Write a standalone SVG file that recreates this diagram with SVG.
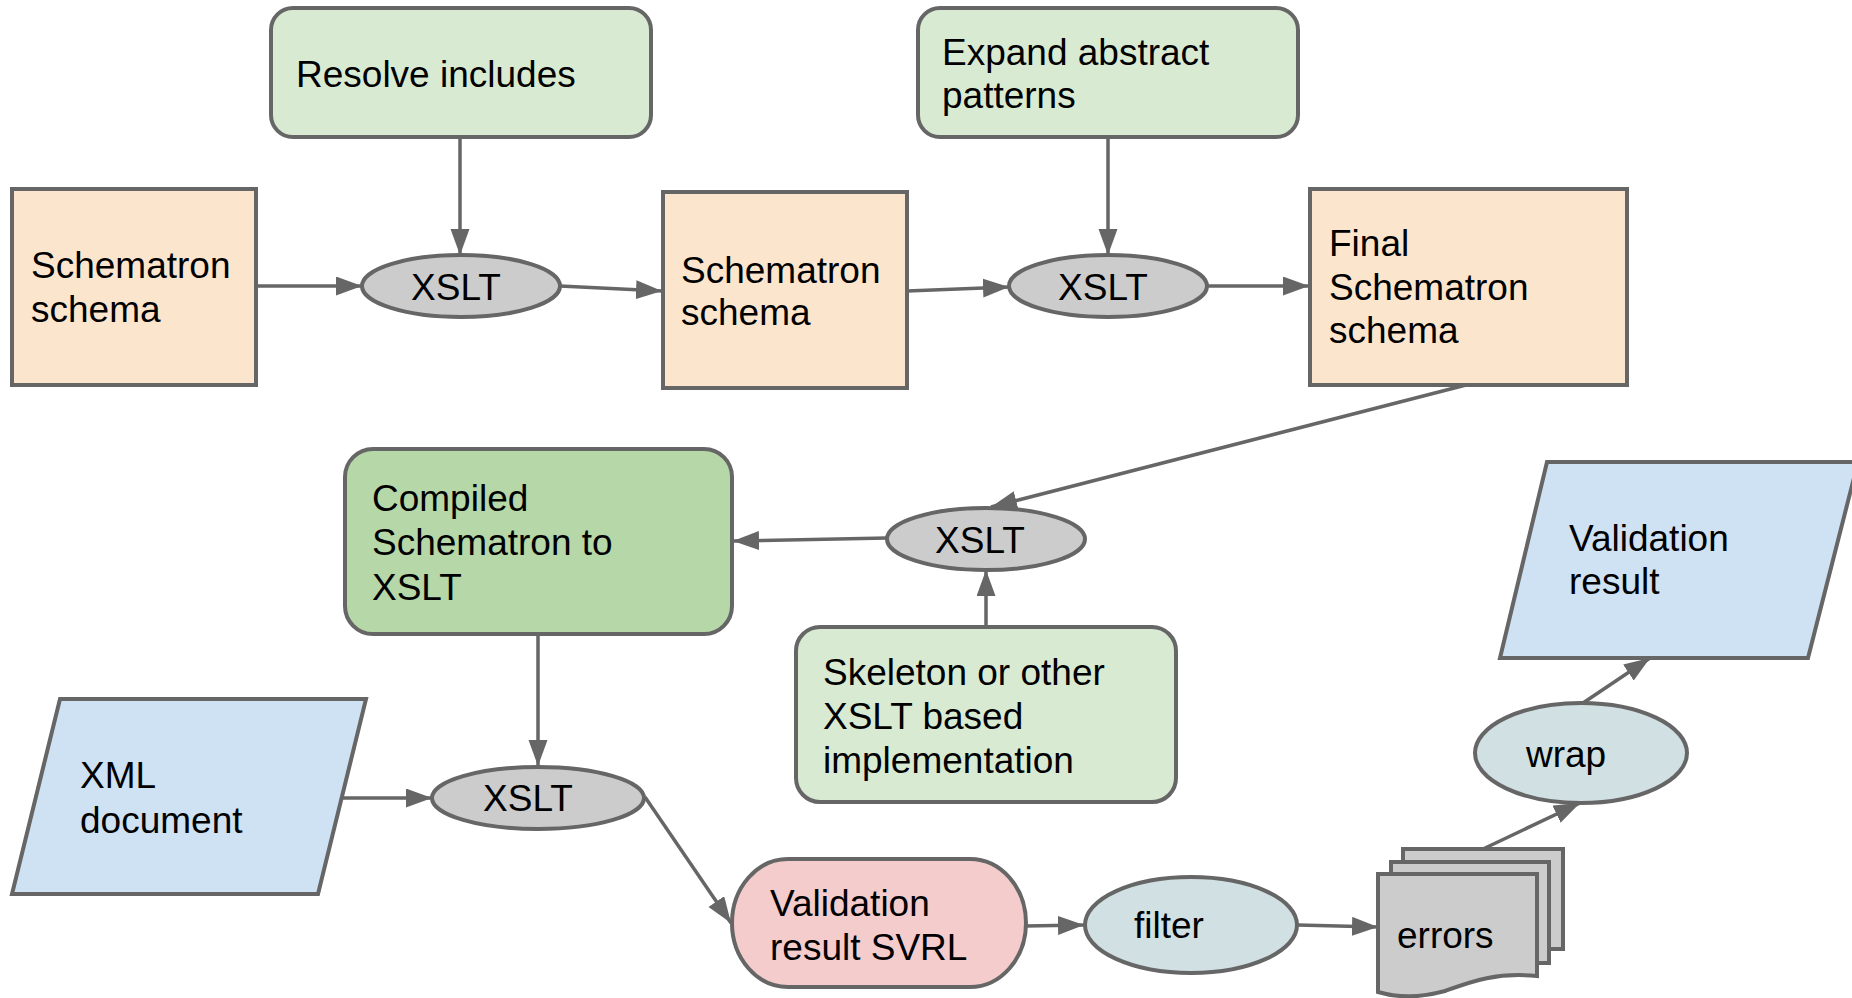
<svg xmlns="http://www.w3.org/2000/svg" width="1852" height="998" viewBox="0 0 1852 998">
<style>
  .n { stroke: #666666; stroke-width: 4; }
  .lg { fill: #d9ead3; }
  .dg { fill: #b6d7a8; }
  .or { fill: #fce5cd; }
  .gr { fill: #cccccc; }
  .bl { fill: #cfe2f3; }
  .pk { fill: #f4cccc; }
  .tl { fill: #d0e0e3; }
  text { font-family: "Liberation Sans", Arial, sans-serif; font-size: 37px; fill: #000000; }
  .c line { stroke: #666666; stroke-width: 3.5; fill: none; marker-end: url(#ah); }
</style>
<defs>
  <marker id="ah" markerUnits="userSpaceOnUse" markerWidth="28" markerHeight="20" refX="26" refY="9.5" orient="auto">
    <path d="M0,0 L26,9.5 L0,19 z" fill="#666666"/>
  </marker>
</defs>
<rect width="1852" height="998" fill="#ffffff"/>

<g class="c" id="connectors">
  <line x1="460" y1="137" x2="460" y2="255"/>
  <line x1="256" y1="286" x2="362" y2="286"/>
  <line x1="560" y1="286" x2="662" y2="291"/>
  <line x1="907" y1="291" x2="1009" y2="287"/>
  <line x1="1108" y1="137" x2="1108" y2="255"/>
  <line x1="1207" y1="286" x2="1309" y2="286"/>
  <line x1="1466" y1="385" x2="991" y2="507"/>
  <line x1="887" y1="538" x2="733" y2="541"/>
  <line x1="986" y1="627" x2="986" y2="570"/>
  <line x1="538" y1="634" x2="538" y2="766"/>
  <line x1="342" y1="798" x2="432" y2="798"/>
  <line x1="645" y1="797" x2="731" y2="923"/>
  <line x1="1025" y1="926" x2="1084" y2="925"/>
  <line x1="1298" y1="925" x2="1378" y2="927"/>
  <line x1="1483" y1="849" x2="1580" y2="803"/>
  <line x1="1583" y1="703" x2="1650" y2="658"/>
</g>

<g id="resolve">
  <rect class="n lg" x="271" y="8" width="380" height="129" rx="22"/>
  <text x="296" y="87">Resolve includes</text>
</g>
<g id="expand">
  <rect class="n lg" x="918" y="8" width="380" height="129" rx="22"/>
  <text x="942" y="65">Expand abstract</text>
  <text x="942" y="108">patterns</text>
</g>
<g id="schema1">
  <rect class="n or" x="12" y="189" width="244" height="196"/>
  <text x="31" y="278">Schematron</text>
  <text x="31" y="322">schema</text>
</g>
<g id="xslt1">
  <ellipse class="n gr" cx="461" cy="286" rx="99" ry="31"/>
  <text x="456" y="300" text-anchor="middle">XSLT</text>
</g>
<g id="schema2">
  <rect class="n or" x="663" y="192" width="244" height="196"/>
  <text x="681" y="283">Schematron</text>
  <text x="681" y="325">schema</text>
</g>
<g id="xslt2">
  <ellipse class="n gr" cx="1108" cy="286" rx="99" ry="31"/>
  <text x="1103" y="300" text-anchor="middle">XSLT</text>
</g>
<g id="final">
  <rect class="n or" x="1310" y="189" width="317" height="196"/>
  <text x="1329" y="256">Final</text>
  <text x="1329" y="300">Schematron</text>
  <text x="1329" y="343">schema</text>
</g>
<g id="xslt3">
  <ellipse class="n gr" cx="986" cy="539" rx="99" ry="31"/>
  <text x="980" y="553" text-anchor="middle">XSLT</text>
</g>
<g id="compiled">
  <rect class="n dg" x="345" y="449" width="387" height="185" rx="28"/>
  <text x="372" y="511">Compiled</text>
  <text x="372" y="555">Schematron to</text>
  <text x="372" y="600">XSLT</text>
</g>
<g id="skeleton">
  <rect class="n lg" x="796" y="627" width="380" height="175" rx="24"/>
  <text x="823" y="685">Skeleton or other</text>
  <text x="823" y="729">XSLT based</text>
  <text x="823" y="773">implementation</text>
</g>
<g id="xml">
  <polygon class="n bl" points="60,699 366,699 318,894 12,894"/>
  <text x="80" y="788">XML</text>
  <text x="80" y="833">document</text>
</g>
<g id="xslt4">
  <ellipse class="n gr" cx="538" cy="798" rx="106" ry="31"/>
  <text x="528" y="811" text-anchor="middle">XSLT</text>
</g>
<g id="svrl">
  <rect class="n pk" x="732" y="859" width="294" height="128" rx="56" ry="64"/>
  <text x="770" y="916">Validation</text>
  <text x="770" y="960">result SVRL</text>
</g>
<g id="filter">
  <ellipse class="n tl" cx="1191" cy="925" rx="106" ry="48"/>
  <text x="1134" y="938">filter</text>
</g>
<g id="errors">
  <rect class="n gr" x="1403" y="849" width="160" height="100"/>
  <rect class="n gr" x="1391" y="862" width="158" height="101"/>
  <path class="n gr" d="M1378,874 H1537 V976 C1495,972 1470,982 1445,991 C1420,998 1398,998 1378,992 Z"/>
  <text x="1397" y="948">errors</text>
</g>
<g id="wrap">
  <ellipse class="n tl" cx="1581" cy="753" rx="106" ry="50"/>
  <text x="1526" y="767">wrap</text>
</g>
<g id="result">
  <polygon class="n bl" points="1547,462 1858,462 1808,658 1500,658"/>
  <text x="1569" y="551">Validation</text>
  <text x="1569" y="594">result</text>
</g>
</svg>
